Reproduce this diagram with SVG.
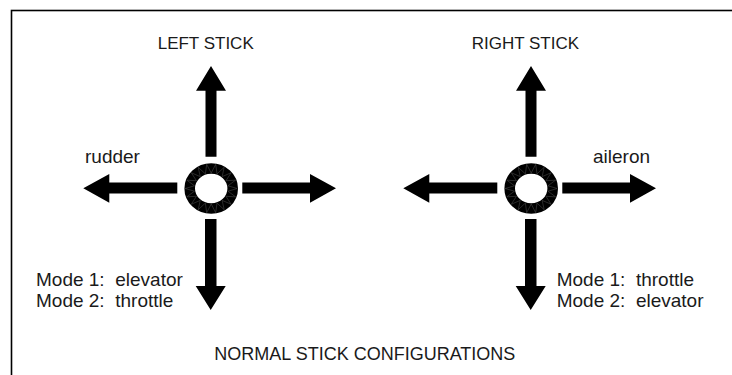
<svg xmlns="http://www.w3.org/2000/svg" width="732" height="375" viewBox="0 0 732 375">
<style>
  text { font-family: "Liberation Sans", Arial, sans-serif; font-size: 18px; fill: #1a1a1a; white-space: pre; }
  .title { font-size: 17px; }
  .dir { font-size: 19px; }
  .mode { font-size: 19px; }
  .ring { fill: none; stroke: #000; stroke-width: 10.6; }
  .mesh { fill: none; stroke: #555; stroke-width: 0.5; }
  .arrow { fill: #000; stroke: none; }
</style>
<defs>
  <g id="stick">
    <ellipse class="ring" cx="0" cy="0" rx="21.5" ry="20"/>
    <polygon class="mesh" points="26,0 16.74,2.69 24.43,8.38 14.72,7.75 19.92,15.75 10.93,11.87 13,21.22 5.81,14.57 4.51,24.13 0,15.5 -4.51,24.13 -5.81,14.57 -13,21.22 -10.93,11.87 -19.92,15.75 -14.72,7.75 -24.43,8.38 -16.74,2.69 -26,0 -16.74,-2.69 -24.43,-8.38 -14.72,-7.75 -19.92,-15.75 -10.93,-11.87 -13,-21.22 -5.81,-14.57 -4.51,-24.13 0,-15.5 4.51,-24.13 5.81,-14.57 13,-21.22 10.93,-11.87 19.92,-15.75 14.72,-7.75 24.43,-8.38 16.74,-2.69"/>
  </g>
</defs>
<rect x="11.5" y="10.5" width="740" height="380" fill="none" stroke="#000" stroke-width="1.6"/>
<g id="connectors">
  <g id="left-arrows">
    <polygon class="arrow" points="205.5,156.7 205.5,90.7 196,90.7 211,66 226,90.7 216.5,90.7 216.5,156.7"/>
    <polygon class="arrow" points="205,219 205,286 195.7,286 210.7,310 225.7,286 216.5,286 216.5,219"/>
    <polygon class="arrow" points="177.3,182.5 109.3,182.5 109.3,174 83.3,188.3 109.3,202.7 109.3,193.5 177.3,193.5"/>
    <polygon class="arrow" points="242.3,182.5 310,182.5 310,174 336,188.3 310,202.7 310,193.5 242.3,193.5"/>
  </g>
  <g id="right-arrows" transform="translate(320,0)">
    <polygon class="arrow" points="205.5,156.7 205.5,90.7 196,90.7 211,66 226,90.7 216.5,90.7 216.5,156.7"/>
    <polygon class="arrow" points="205,219 205,286 195.7,286 210.7,310 225.7,286 216.5,286 216.5,219"/>
    <polygon class="arrow" points="177.3,182.5 109.3,182.5 109.3,174 83.3,188.3 109.3,202.7 109.3,193.5 177.3,193.5"/>
    <polygon class="arrow" points="242.3,182.5 310,182.5 310,174 336,188.3 310,202.7 310,193.5 242.3,193.5"/>
  </g>
</g>
<g id="left-stick">
  <use href="#stick" transform="translate(211.2,188.5)"/>
  <text class="title" x="157.7" y="49.3">LEFT STICK</text>
  <text class="dir" x="85" y="163">rudder</text>
  <text class="mode" x="36" y="286">Mode 1:  elevator</text>
  <text class="mode" x="36" y="307.3">Mode 2:  throttle</text>
</g>
<g id="right-stick">
  <use href="#stick" transform="translate(531.2,188.5)"/>
  <text class="title" x="471.7" y="49.3">RIGHT STICK</text>
  <text class="dir" x="593" y="163">aileron</text>
  <text class="mode" x="556.7" y="286">Mode 1:  throttle</text>
  <text class="mode" x="556.7" y="307.3">Mode 2:  elevator</text>
</g>
<g id="caption">
  <text x="214.3" y="360">NORMAL STICK CONFIGURATIONS</text>
</g>
</svg>
